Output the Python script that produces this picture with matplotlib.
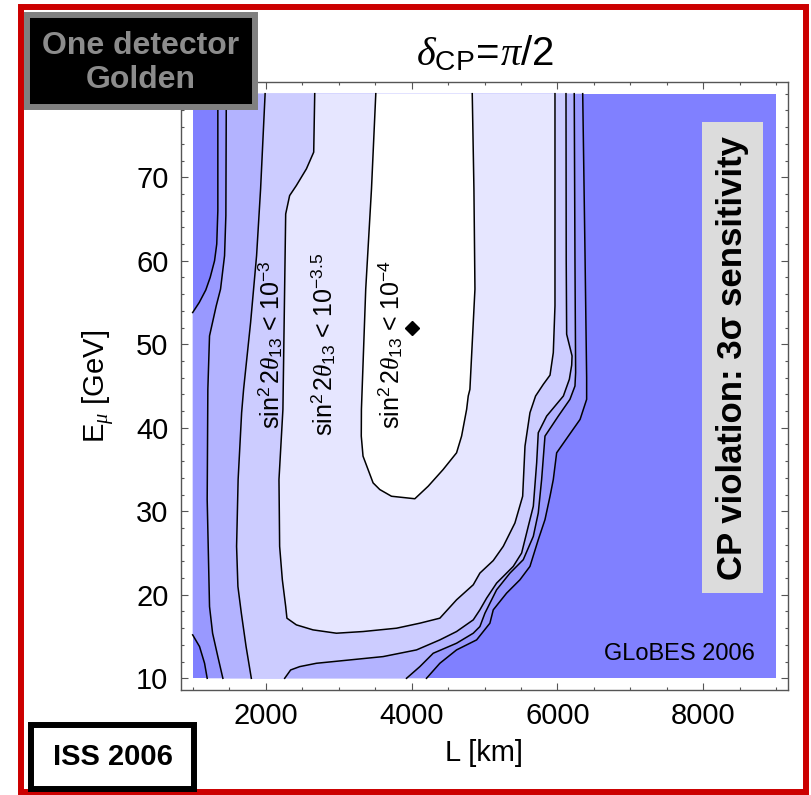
import numpy as np
import matplotlib
matplotlib.use('Agg')
import matplotlib.pyplot as plt
from matplotlib.patches import Rectangle
from matplotlib.ticker import MultipleLocator

plt.rcParams['font.family'] = ['Liberation Sans', 'DejaVu Sans']
plt.rcParams['mathtext.fontset'] = 'custom'
plt.rcParams['mathtext.rm'] = 'Liberation Sans'
plt.rcParams['mathtext.it'] = 'Liberation Serif:italic'
plt.rcParams['mathtext.bf'] = 'Liberation Sans:bold'

# scanned region: baseline L [km] and muon energy [GeV]
L_MIN, L_MAX = 1000, 9000
E_MIN, E_MAX = 10, 80

# contour lines, (L, E_mu) pairs
# outer contour, upper left part (ends on the left edge)
CONT_A = np.array([(1345, 80), (1345, 66), (1330, 62), (1300, 60), (1240, 58),
                   (1180, 56.5), (1090, 55), (1000, 53.8)])
# outer contour, bottom left corner
CONT_I = np.array([(1000, 15.2), (1094, 13.8), (1163, 11.8), (1199, 10)])
# outer contour, right side (bottom -> top)
CONT_H = np.array([(4205, 10), (4388, 11.8), (4617, 13.4), (4892, 14.6), (5074, 16.6),
                   (5120, 18.2), (5303, 20.2), (5486, 21.8), (5623, 23.4), (5737, 26.6),
                   (5829, 29), (5898, 31.8), (5943, 33.8), (5989, 37), (6149, 39),
                   (6310, 41), (6400, 43.4), (6400, 46), (6378, 60.6), (6346, 80)])
# second contour, left (top -> bottom) and right (bottom -> top)
CONT_B = np.array([(1461, 80), (1455, 65.4), (1437, 60.6), (1382, 56.6), (1323, 54.6),
                   (1231, 51), (1208, 44.6), (1199, 31.4), (1231, 18.6), (1273, 15.4),
                   (1345, 12.6), (1414, 10)])
CONT_G = np.array([(3931, 10), (4114, 11.4), (4297, 13), (4617, 14.2), (4846, 15.4),
                   (4937, 16.2), (5006, 17.8), (5166, 20.6), (5349, 22.6), (5531, 24.2),
                   (5669, 27), (5737, 29.8), (5783, 33.8), (5829, 39), (6012, 41.4),
                   (6171, 43.4), (6240, 45), (6249, 46.6), (6240, 60), (6230, 80)])
# sin^2 2theta13 = 1e-3 contour
CONT_C = np.array([(1993, 80), (1931, 68.6), (1876, 60.6), (1794, 52.6), (1698, 44.6),
                   (1671, 41.8), (1623, 33.8), (1602, 25.8), (1620, 21), (1667, 17.8),
                   (1732, 13.8), (1804, 10)])
CONT_F = np.array([(2261, 10), (2343, 11), (2467, 11.4), (2696, 11.8), (3153, 12.2),
                   (3610, 12.6), (4068, 13.4), (4388, 14.6), (4617, 15.6), (4846, 17),
                   (4937, 18.2), (5029, 19.6), (5166, 21.4), (5394, 23.4), (5509, 25),
                   (5600, 28.2), (5669, 30.6), (5715, 35.8), (5737, 39.4), (5852, 41.4),
                   (6081, 43.8), (6163, 45.8), (6195, 47.5), (6200, 48.6), (6126, 51.2),
                   (6120, 60), (6117, 80)])
# sin^2 2theta13 = 10^-3.5 contour
CONT_D = np.array([(2673, 80), (2659, 73), (2559, 71), (2421, 69), (2329, 67.8),
                   (2275, 65.6), (2237, 42.2), (2183, 33.8), (2192, 25.8), (2229, 21.8),
                   (2275, 18.6), (2292, 17.2), (2421, 16.4), (2649, 15.8), (2970, 15.4),
                   (3335, 15.6), (3794, 16), (4114, 16.6), (4388, 17.2), (4617, 19.4),
                   (4846, 21.2), (4937, 22.6), (5120, 24.1), (5257, 25.8), (5417, 28.6),
                   (5523, 31.8), (5555, 37.8), (5623, 41.8), (5700, 43.8), (5806, 45.2),
                   (5898, 46.3), (5943, 49), (5966, 54.6), (5966, 80)])
# sin^2 2theta13 = 1e-4 contour
CONT_E = np.array([(3510, 80), (3451, 68.6), (3372, 56.6), (3313, 42.2), (3311, 39),
                   (3335, 36.6), (3473, 33.4), (3565, 32.6), (3725, 31.8), (4045, 31.5),
                   (4228, 33), (4433, 35), (4617, 37), (4686, 39), (4755, 42.2),
                   (4777, 43.8), (4800, 44.6), (4869, 56.6), (4855, 68.6), (4832, 80)])

BAND_COLORS = ['#8080FF', '#9999FF', '#B3B3FF', '#CCCCFF', '#E6E6FF', '#FFFFFF']
OPT_L, OPT_E = 4000, 52

fig = plt.figure(figsize=(8.11, 7.95), dpi=100)
ax = fig.add_axes([181 / 811, 105 / 795, 607 / 811, 608 / 795])

ax.fill([L_MIN, L_MAX, L_MAX, L_MIN], [E_MIN, E_MIN, E_MAX, E_MAX],
        color=BAND_COLORS[0], lw=0)
bands = [np.vstack([CONT_A, CONT_I, CONT_H]),
         np.vstack([CONT_B, CONT_G]),
         np.vstack([CONT_C, CONT_F]),
         CONT_D,
         CONT_E]
for poly, col in zip(bands, BAND_COLORS[1:]):
    ax.fill(poly[:, 0], poly[:, 1], color=col, lw=0)

for line in (CONT_A, CONT_I, CONT_H, CONT_B, CONT_G, CONT_C, CONT_F, CONT_D, CONT_E):
    ax.plot(line[:, 0], line[:, 1], color='black', lw=1.1, solid_joinstyle='round')

ax.plot(OPT_L, OPT_E, 'D', color='black', ms=7)

lab_kw = dict(rotation=90, ha='center', va='center', fontsize=18)
ax.text(2070, 50, r'$\mathrm{sin}^2\, 2\theta_{13}\,<\,10^{-3}$', **lab_kw)
ax.text(2790, 50, r'$\mathrm{sin}^2\, 2\theta_{13}\,<\,10^{-3.5}$', **lab_kw)
ax.text(3720, 50, r'$\mathrm{sin}^2\, 2\theta_{13}\,<\,10^{-4}$', **lab_kw)

ax.text(8712, 12.2, 'GLoBES 2006', ha='right', va='baseline', fontsize=17)
ax.text(8396, 48.4, 'CP violation: 3σ sensitivity', rotation=90, ha='center',
        va='center', fontsize=25, fontweight='bold',
        bbox=dict(boxstyle='square,pad=0.4', fc='#DCDCDC', ec='none'))

ax.set_xlim(840, 9160)
ax.set_ylim(8.6, 81.4)
ax.xaxis.set_major_locator(MultipleLocator(2000))
ax.xaxis.set_minor_locator(MultipleLocator(500))
ax.set_yticks([10, 20, 30, 40, 50, 60, 70])
ax.yaxis.set_minor_locator(MultipleLocator(2))
ax.tick_params(which='both', direction='in', top=True, right=True,
               color='#555555', labelsize=21, width=0.8)
ax.tick_params(which='major', length=5, pad=9)
ax.tick_params(which='minor', length=2.5)
for sp in ax.spines.values():
    sp.set_color('#555555')
    sp.set_linewidth(1)

ax.set_xlabel('L [km]', fontsize=21, labelpad=6)
ax.set_ylabel(r'E$_{\mu}$ [GeV]', fontsize=21, labelpad=14)
ax.set_title(r'$\delta_{\mathrm{CP}}\!=\!\pi/2$', fontsize=29, pad=12)

# frame and corner boxes
fig.add_artist(Rectangle((21 / 811, 3 / 795), 785 / 811, 785 / 795,
                         transform=fig.transFigure, fill=False,
                         ec='#CC0000', lw=4.3))
fig.add_artist(Rectangle((27 / 811, 688 / 795), 228 / 811, 92 / 795,
                         transform=fig.transFigure, fc='black', ec='#808080', lw=4.3))
fig.text(141 / 811, 1 - 63 / 795, 'One detector\nGolden', ha='center', va='center',
         fontsize=23, fontweight='bold', color='#8C8C8C', linespacing=1.15)
fig.add_artist(Rectangle((31 / 811, 6 / 795), 163 / 811, 64 / 795,
                         transform=fig.transFigure, fc='white', ec='black', lw=4.3))
fig.text(113 / 811, 1 - 757 / 795, 'ISS 2006', ha='center', va='center',
         fontsize=21, fontweight='bold', color='black')

fig.savefig('out.png', dpi=100)
